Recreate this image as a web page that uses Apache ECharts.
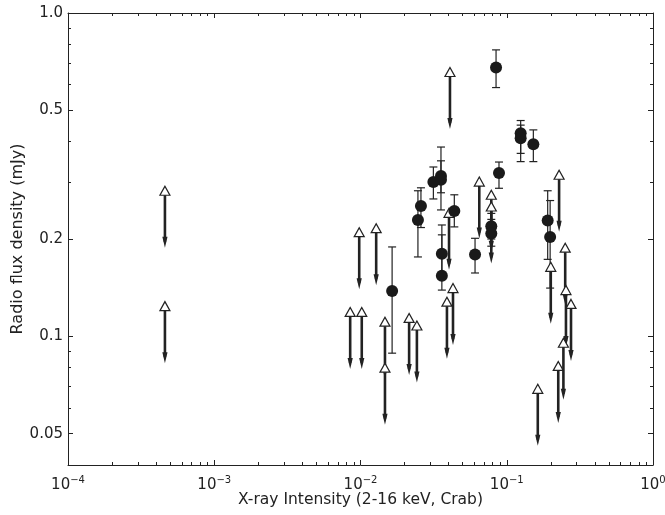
<!DOCTYPE html>
<html><head><meta charset="utf-8">
<script src="https://cdn.jsdelivr.net/npm/echarts@6/dist/echarts.min.js"></script>
<style>html,body{margin:0;padding:0;background:#fff}#c{width:665px;height:515px}</style>
</head><body><div id="c"></div>
<script>
// Upper limits (3-sigma), X-ray intensity (Crab) vs radio flux (mJy)
const limX = [0.00046, 0.00046, 0.0085, 0.0098, 0.0102, 0.0128, 0.0147, 0.0147, 0.0215, 0.0243,
              0.0390, 0.0429, 0.0403, 0.0409, 0.0649, 0.0784, 0.0784, 0.228, 0.200, 0.251,
              0.254, 0.275, 0.244, 0.225, 0.163];
const limY = [0.282, 0.124, 0.119, 0.210, 0.119, 0.216, 0.111, 0.080, 0.114, 0.108,
              0.128, 0.141, 0.241, 0.657, 0.301, 0.274, 0.252, 0.316, 0.164, 0.188,
              0.139, 0.126, 0.0955, 0.081, 0.0688];
// Detections with error bars
const detX  = [0.01645, 0.0247, 0.0259, 0.0315, 0.0355, 0.0355, 0.0360, 0.0360, 0.0438, 0.0607,
               0.0784, 0.0784, 0.0845, 0.0885, 0.1245, 0.1245, 0.152, 0.1905, 0.198];
const detY  = [0.138, 0.229, 0.253, 0.300, 0.313, 0.305, 0.180, 0.154, 0.244, 0.179,
               0.219, 0.208, 0.678, 0.320, 0.425, 0.410, 0.393, 0.228, 0.203];
const detLo = [0.0887, 0.176, 0.217, 0.266, 0.278, 0.246, 0.150, 0.139, 0.218, 0.157,
               0.200, 0.190, 0.588, 0.287, 0.368, 0.347, 0.347, 0.173, 0.141];
const detHi = [0.189, 0.282, 0.288, 0.334, 0.349, 0.385, 0.221, 0.206, 0.274, 0.201,
               0.240, 0.230, 0.769, 0.346, 0.465, 0.450, 0.435, 0.282, 0.263];
// Axis ticks
const xTickExps = [-4, -3, -2, -1, 0];
const yTickValues = [0.05, 0.1, 0.2, 0.5, 1.0];
const yTickLabels = ['0.05', '0.1', '0.2', '0.5', '1.0'];
const yMinorValues = [0.06, 0.07, 0.08, 0.09, 0.3, 0.4, 0.6, 0.7, 0.8, 0.9];
const xMinorMult = [2, 3, 4, 5, 6, 7, 8, 9];

const L = Math.log10;
const xMinor = [];
for (let d = -4; d < 0; d++) xMinorMult.forEach(k => xMinor.push(d + L(k)));
const yMajorLog = yTickValues.map(L);
const yMinorLog = yMinorValues.map(L);

const FONT = 'DejaVu Sans';
const lineStyle = {color: '#222', width: 1};
function xAx(grid, pos, ticks, len, labels) {
  return {
    type: 'value', gridIndex: grid, position: pos, min: -4, max: 0,
    axisLine: {show: grid === 0, onZero: false, lineStyle: lineStyle},
    axisTick: {show: true, inside: true, length: len, customValues: ticks, lineStyle: lineStyle},
    axisLabel: labels ? {
      show: true, customValues: xTickExps, margin: 10, fontFamily: FONT, color: '#222',
      formatter: v => '{b|10}{s|' + (v < 0 ? '\u2212' + (-v) : '0') + '}',
      rich: {b: {fontSize: 15, fontFamily: FONT, color: '#222'},
             s: {fontSize: 10, fontFamily: FONT, color: '#222', padding: [0, 0, 10, 0]}}
    } : {show: false},
    splitLine: {show: false},
    name: labels ? 'X-ray Intensity (2-16 keV, Crab)' : '',
    nameLocation: 'middle', nameGap: 27, nameMoveOverlap: false,
    nameTextStyle: {fontSize: 15.5, fontFamily: FONT, color: '#222'}
  };
}
function yAx(grid, pos, ticks, len, labels) {
  return {
    type: 'value', gridIndex: grid, position: pos, min: L(0.04), max: 0,
    axisLine: {show: grid === 0, onZero: false, lineStyle: lineStyle},
    axisTick: {show: true, inside: true, length: len, customValues: ticks, lineStyle: lineStyle},
    axisLabel: labels ? {
      show: true, customValues: yMajorLog, margin: 5, fontSize: 15, fontFamily: FONT, color: '#222',
      formatter: v => {
        let best = 0;
        yMajorLog.forEach((t, i) => { if (Math.abs(t - v) < Math.abs(yMajorLog[best] - v)) best = i; });
        return yTickLabels[best];
      }
    } : {show: false},
    splitLine: {show: false},
    name: labels ? 'Radio flux density (mJy)' : '',
    nameLocation: 'middle', nameGap: 42, nameMoveOverlap: false,
    nameTextStyle: {fontSize: 16, fontFamily: FONT, color: '#222'}
  };
}

function renderErr(params, api) {
  const x = api.value(0), lo = api.value(1), hi = api.value(2);
  const p1 = api.coord([x, hi]), p2 = api.coord([x, lo]);
  const w = 4, st = {stroke: '#222', lineWidth: 1.2};
  return {type: 'group', children: [
    {type: 'line', shape: {x1: p1[0], y1: p1[1], x2: p2[0], y2: p2[1]}, style: st},
    {type: 'line', shape: {x1: p1[0] - w, y1: p1[1], x2: p1[0] + w, y2: p1[1]}, style: st},
    {type: 'line', shape: {x1: p2[0] - w, y1: p2[1], x2: p2[0] + w, y2: p2[1]}, style: st}
  ]};
}
function renderArrow(params, api) {
  const p = api.coord([api.value(0), api.value(1)]);
  const tip = p[1] + 57;
  return {type: 'group', children: [
    {type: 'line', shape: {x1: p[0], y1: p[1], x2: p[0], y2: tip - 6}, style: {stroke: '#222', lineWidth: 2.6}},
    {type: 'polygon', shape: {points: [[p[0] - 2.6, tip - 11], [p[0] + 2.6, tip - 11], [p[0], tip]]}, style: {fill: '#222'}}
  ]};
}

const gridBox = {left: 68, right: 12, top: 13, bottom: 50, containLabel: false, outerBoundsMode: 'none'};
const chart = echarts.init(document.getElementById('c'), null, {renderer: 'canvas'});
chart.setOption({
  animation: false,
  backgroundColor: '#fff',
  grid: [Object.assign({}, gridBox), Object.assign({}, gridBox)],
  xAxis: [
    xAx(0, 'bottom', xTickExps, 5, true),
    xAx(0, 'top', xTickExps, 5, false),
    xAx(1, 'bottom', xMinor, 3, false),
    xAx(1, 'top', xMinor, 3, false)
  ],
  yAxis: [
    yAx(0, 'left', yMajorLog, 5, true),
    yAx(0, 'right', yMajorLog, 5, false),
    yAx(1, 'left', yMinorLog, 3, false),
    yAx(1, 'right', yMinorLog, 3, false)
  ],
  series: [
    {type: 'custom', xAxisIndex: 0, yAxisIndex: 0, renderItem: renderArrow, z: 2,
     data: limX.map((x, i) => [L(x), L(limY[i])])},
    {type: 'custom', xAxisIndex: 0, yAxisIndex: 0, renderItem: renderErr, z: 3,
     data: detX.map((x, i) => [L(x), L(detLo[i]), L(detHi[i])])},
    {type: 'scatter', xAxisIndex: 0, yAxisIndex: 0, symbol: 'triangle', symbolSize: [10, 9], z: 4,
     itemStyle: {color: '#fff', borderColor: '#222', borderWidth: 1.2, opacity: 1},
     data: limX.map((x, i) => [L(x), L(limY[i])])},
    {type: 'scatter', xAxisIndex: 0, yAxisIndex: 0, symbol: 'circle', symbolSize: 12, z: 5,
     itemStyle: {color: '#1a1a1a', opacity: 1},
     data: detX.map((x, i) => [L(x), L(detY[i])])}
  ]
});
</script>
</body></html>
